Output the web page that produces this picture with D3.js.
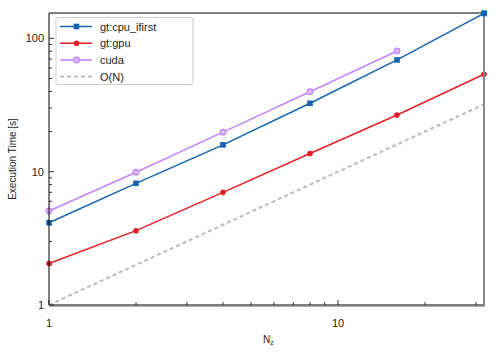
<!DOCTYPE html>
<html><head><meta charset="utf-8">
<script src="https://cdn.jsdelivr.net/npm/d3@7"></script>
<style>body{margin:0;background:#fff}svg{display:block}text{font-family:"Liberation Sans",Arial,sans-serif}</style>
</head><body><svg id="c" width="504" height="360"></svg>
<script>
const nz = [1, 2, 4, 8, 16, 32];
const cpuIfirst = [4.14, 8.18, 15.9, 32.6, 68.9, 154];
const gtGpu = [2.05, 3.61, 7.0, 13.7, 26.6, 53.8];
const cuda = [5.07, 9.9, 19.8, 39.8, 80.4];
const orderN = [1, 2, 4, 8, 16, 32];
const xTicks = [1, 10];
const yTicks = [1, 10, 100];

const series = [
  {name: "gt:cpu_ifirst", vals: cpuIfirst, color: "#1465b0", marker: "square"},
  {name: "gt:gpu", vals: gtGpu, color: "#e31f26", marker: "circle"},
  {name: "cuda", vals: cuda, color: "#c084fc", marker: "open"},
  {name: "O(N)", vals: orderN, color: "#bbbbbb", marker: "none", dash: "4,3"}
];

const svg = d3.select("#c");
const L = 49, R = 484, T = 13, B = 305;
const x = d3.scaleLog().domain([1, 32]).range([L, R]);
const y = d3.scaleLog().domain([1, 155]).range([B, T]);

// axes: minor ticks
const xMinor = [2,3,4,5,6,7,8,9,20,30];
const yMinor = [2,3,4,5,6,7,8,9,20,30,40,50,60,70,80,90];
const g = svg.append("g");
g.selectAll(".xm").data(xMinor).enter().append("line")
  .attr("x1", d => x(d)).attr("x2", d => x(d)).attr("y1", B).attr("y2", B - 3)
  .attr("stroke", "#000").attr("stroke-width", 0.8);
g.selectAll(".xM").data(xTicks).enter().append("line")
  .attr("x1", d => x(d)).attr("x2", d => x(d)).attr("y1", B).attr("y2", B - 5)
  .attr("stroke", "#000").attr("stroke-width", 0.8);
g.selectAll(".ym").data(yMinor).enter().append("line")
  .attr("x1", L).attr("x2", L + 3).attr("y1", d => y(d)).attr("y2", d => y(d))
  .attr("stroke", "#000").attr("stroke-width", 0.8);
g.selectAll(".yM").data(yTicks).enter().append("line")
  .attr("x1", L).attr("x2", L + 5).attr("y1", d => y(d)).attr("y2", d => y(d))
  .attr("stroke", "#000").attr("stroke-width", 0.8);

g.selectAll(".xl").data(xTicks).enter().append("text")
  .attr("x", d => x(d)).attr("y", B + 22).attr("text-anchor", "middle")
  .attr("font-size", 11).attr("fill", "#222").text(d => d);
g.selectAll(".yl").data(yTicks).enter().append("text")
  .attr("x", L - 5).attr("y", d => y(d) + 4).attr("text-anchor", "end")
  .attr("font-size", 11).attr("fill", "#222").text(d => d);

// labels
svg.append("text").attr("transform", `translate(16,${(T+B)/2}) rotate(-90)`)
  .attr("text-anchor", "middle").attr("font-size", 10).attr("fill", "#222")
  .text("Execution Time [s]");
const xl = svg.append("text").attr("x", 263).attr("y", 343).attr("font-size", 10).attr("fill", "#222");
xl.append("tspan").text("N");
xl.append("tspan").attr("font-size", 7).attr("dy", 2).text("z");

// series
const line = d3.line().x((d, i) => x(nz[i])).y(d => y(d));
series.forEach(s => {
  svg.append("path").datum(s.vals).attr("d", line).attr("fill", "none")
    .attr("stroke", s.color).attr("stroke-width", s.dash ? 2 : 1.5)
    .attr("stroke-dasharray", s.dash || null);
});
function drawMarker(sel, s, cx, cy) {
  if (s.marker === "square") {
    sel.append("rect").attr("x", cx - 2.8).attr("y", cy - 2.8).attr("width", 5.6).attr("height", 5.6).attr("fill", s.color);
  } else if (s.marker === "circle") {
    sel.append("circle").attr("cx", cx).attr("cy", cy).attr("r", 2.8).attr("fill", s.color);
  } else if (s.marker === "open") {
    sel.append("circle").attr("cx", cx).attr("cy", cy).attr("r", 2.8).attr("fill", "#dcb8ff").attr("stroke", s.color).attr("stroke-width", 1.2);
  }
}
series.forEach(s => {
  s.vals.forEach((v, i) => drawMarker(svg, s, x(nz[i]), y(v)));
});

// spines
svg.append("line").attr("x1", L).attr("x2", R).attr("y1", T).attr("y2", T).attr("stroke", "#000").attr("stroke-width", 1);
svg.append("line").attr("x1", L).attr("x2", L).attr("y1", T).attr("y2", B).attr("stroke", "#000").attr("stroke-width", 1);
svg.append("line").attr("x1", L).attr("x2", R + 1).attr("y1", B + 1.5).attr("y2", B + 1.5).attr("stroke", "#aaa").attr("stroke-width", 1);
svg.append("line").attr("x1", L).attr("x2", R).attr("y1", B).attr("y2", B).attr("stroke", "#000").attr("stroke-width", 1);
svg.append("line").attr("x1", R).attr("x2", R).attr("y1", T).attr("y2", B + 1).attr("stroke", "#888").attr("stroke-width", 2);
// redraw last cpu marker over spine
drawMarker(svg, series[0], x(32), y(cpuIfirst[5]));

// legend
const lg = svg.append("g");
lg.append("rect").attr("x", 56).attr("y", 17.5).attr("width", 137).attr("height", 67)
  .attr("fill", "#fff").attr("stroke", "#ccc").attr("stroke-width", 1).attr("rx", 1.5);
series.forEach((s, i) => {
  const yy = 26.5 + i * 16.7;
  lg.append("line").attr("x1", 60).attr("x2", 92).attr("y1", yy).attr("y2", yy)
    .attr("stroke", s.color).attr("stroke-width", s.dash ? 2 : 1.5).attr("stroke-dasharray", s.dash || null);
  drawMarker(lg, s, 76.5, yy);
  lg.append("text").attr("x", 100).attr("y", yy + 4).attr("font-size", 11).attr("fill", "#222").text(s.name);
});
</script></body></html>
